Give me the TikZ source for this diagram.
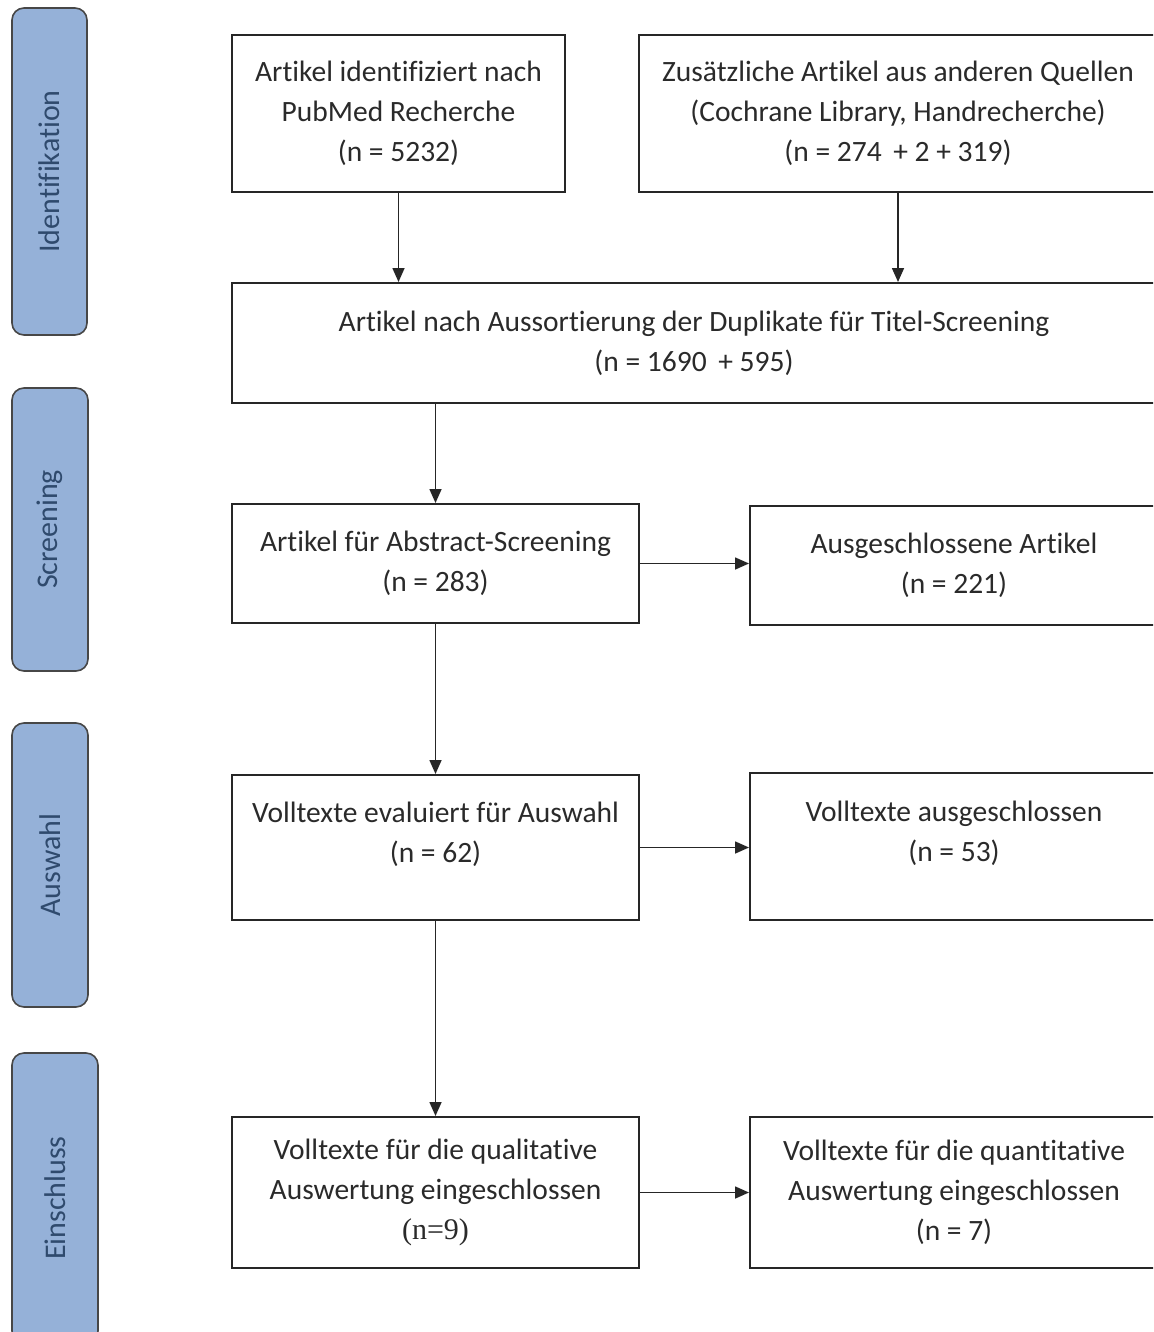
\documentclass[tikz,border=0pt]{standalone}
\usepackage{fontspec}
\setmainfont{Carlito}[Ligatures=NoCommon]
\newfontfamily\cambria{Liberation Serif}
\usetikzlibrary{arrows.meta, positioning, calc}
\definecolor{barblue}{HTML}{95B1D8}
\definecolor{bartext}{HTML}{2F4A6D}
\definecolor{boxline}{HTML}{262626}
\definecolor{boxtext}{HTML}{2A2A2A}

\begin{document}
\begin{tikzpicture}[
  x=1pt, y=-1pt,
  >={Triangle[length=14pt, width=12pt]},
  flowbox/.style 2 args={
    draw=boxline, line width=2pt, fill=white,
    minimum width=#1, minimum height=#2, inner sep=0pt,
    font=\fontsize{29.5}{40}\selectfont, text=boxtext, align=center
  },
  phasebar/.style 2 args={
    draw=boxline!85, line width=1.6pt, fill=barblue, rounded corners=12pt,
    rotate=90, minimum width=#1, minimum height=#2, inner sep=0pt,
    font=\fontsize{30}{34}\selectfont, text=bartext
  },
  arr/.style={->, line width=1.6pt, boxline},
]

% Canvas
\useasboundingbox (0,0) rectangle (1153,1332);
\clip (0,0) rectangle (1153,1332);
\fill[white] (0,0) rectangle (1153,1332);

% =============================================
% Phase bars
% =============================================
\node[phasebar={327pt}{75pt}] (ident) at (49.5,171.5) {Identifikation};
\node[phasebar={283pt}{76pt}] (screen) at (50,529.5) {Screening};
\node[phasebar={284pt}{76pt}] (ausw) at (50,865) {Auswahl};
\node[phasebar={290pt}{86pt}] (einschl) at (55,1198) {Einschluss};

% =============================================
% Identifikation
% =============================================
\node[flowbox={333pt}{157pt}] (pubmed) at (398.5,113.5)
  {Artikel identifiziert nach\\
   PubMed Recherche\\
   (n = 5232)};

\node[flowbox={518pt}{157pt}] (andere) at (898,113.5)
  {Zusätzliche Artikel aus anderen Quellen\\
   (Cochrane Library, Handrecherche)\\
   (n = 274 \,+ 2 + 319)};

% =============================================
% Screening
% =============================================
\node[flowbox={924pt}{120pt}] (dupl) at (694,343)
  {Artikel nach Aussortierung der Duplikate für Titel-Screening\\
   (n = 1690 \,+ 595)};

\node[flowbox={407pt}{119pt}] (abstr) at (435.5,563.5)
  {Artikel für Abstract-Screening\\
   (n = 283)};

\node[flowbox={408pt}{119pt}] (ausg) at (954,565.5)
  {Ausgeschlossene Artikel\\
   (n = 221)};

% =============================================
% Auswahl
% =============================================
\node[flowbox={407pt}{145pt}, text depth=30pt] (voll) at (435.5,847.5)
  {Volltexte evaluiert für Auswahl\\
   (n = 62)};

\node[flowbox={408pt}{147pt}, text depth=30pt] (vollaus) at (954,846.5)
  {Volltexte ausgeschlossen\\
   (n = 53)};

% =============================================
% Einschluss
% =============================================
\node[flowbox={407pt}{151pt}] (quali) at (435.5,1192.5)
  {Volltexte für die qualitative\\
   Auswertung eingeschlossen\\
   {\cambria\fontsize{30}{40}\selectfont (n=9)}};

\node[flowbox={408pt}{151pt}] (quanti) at (954,1192.5)
  {Volltexte für die quantitative\\
   Auswertung eingeschlossen\\
   (n = 7)};

% Arrows
\draw[arr] (pubmed.south) -- (pubmed.south |- dupl.north);
\draw[arr] (andere.south) -- (andere.south |- dupl.north);
\draw[arr] (abstr.north |- dupl.south) -- (abstr.north);
\draw[arr] (abstr.south) -- (voll.north);
\draw[arr] (voll.south) -- (quali.north);
\draw[arr] (abstr.east) -- (abstr.east -| ausg.west);
\draw[arr] (voll.east) -- (voll.east -| vollaus.west);
\draw[arr] (quali.east) -- (quanti.west);

\end{tikzpicture}
\end{document}
